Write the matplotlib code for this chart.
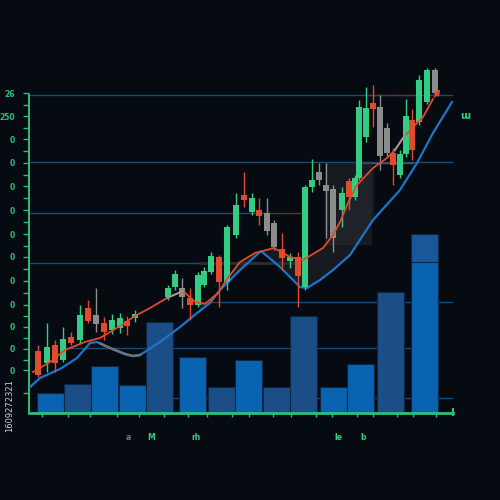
import matplotlib.pyplot as plt
import matplotlib.patches as patches
import numpy as np

# ---- data (x = time position, y = price level) ----
candle_x = [9, 18, 26, 34, 42, 51, 59, 67, 75, 83, 91, 98, 106,
            139, 146, 153, 161, 169, 175, 182, 190, 198, 207, 215, 223,
            230, 238, 245, 253, 261, 269, 276, 283, 290, 297, 304, 313,
            320, 326, 330, 337, 344, 351, 358, 364, 371, 377, 383, 390,
            398, 406]
candle_open = [62, 50, 68, 53, 76, 73, 105, 98, 90, 83, 85, 92, 95,
               116, 126, 125, 115, 108, 128, 141, 156, 131, 178, 218, 201,
               203, 200, 190, 164, 152, 156, 126, 226, 241, 228, 224, 203,
               232, 216, 235, 276, 310, 306, 285, 260, 238, 259, 293, 291,
               311, 343]
candle_close = [38, 66, 50, 74, 70, 98, 92, 89, 81, 93, 95, 87, 99,
                125, 139, 116, 108, 138, 142, 157, 131, 186, 208, 213, 215,
                197, 182, 166, 155, 156, 137, 226, 233, 233, 222, 175, 220,
                216, 235, 306, 305, 304, 257, 260, 248, 259, 297, 263, 333,
                343, 320]
candle_high = [68, 90, 73, 86, 81, 108, 113, 125, 96, 99, 100, 97, 103,
               128, 143, 135, 125, 141, 146, 161, 158, 188, 220, 241, 220,
               215, 215, 193, 180, 160, 161, 228, 254, 250, 250, 228, 226,
               235, 238, 313, 326, 328, 318, 290, 265, 263, 314, 304, 338,
               345, 345]
candle_low = [36, 41, 41, 51, 68, 70, 90, 81, 73, 79, 80, 78, 91,
              113, 123, 105, 93, 106, 126, 139, 106, 123, 175, 206, 198,
              188, 178, 163, 143, 145, 106, 123, 221, 228, 175, 161, 186,
              203, 213, 233, 271, 286, 243, 256, 228, 235, 256, 253, 288,
              309, 318]
neutral_idx = [7, 15, 26, 27, 33, 34, 35, 42, 43, 50]

ma_x = [4, 21, 36, 56, 71, 91, 106, 121, 138, 154, 166, 176, 189, 198,
        211, 226, 245, 261, 274, 294, 304, 311, 319, 328, 344, 358, 366,
        374, 384, 394, 404, 413]
ma_y = [41, 51, 63, 71, 75, 87, 97, 105, 115, 122, 111, 109, 120, 134,
        151, 160, 165, 156, 153, 165, 178, 191, 210, 228, 245, 255, 263,
        275, 286, 296, 314, 326]

trend_x = [1, 11, 31, 48, 61, 68, 81, 96, 104, 111, 131, 151, 168, 181,
           191, 211, 232, 251, 271, 278, 291, 304, 321, 344, 371, 388,
           404, 423]
trend_y = [26, 35, 44, 55, 70, 71, 65, 59, 57, 58, 71, 86, 100, 110,
           123, 143, 162, 146, 126, 125, 133, 143, 158, 193, 223, 250,
           280, 311]

vol_x = [21, 48, 75.5, 103, 130, 163, 192, 219.5, 247, 274, 304, 331.5,
         361, 395.5]
vol_h = [20, 29, 47, 28, 91, 56, 26, 53, 26, 97, 26, 49, 121, 179]
vol_dark = [1, 4, 6, 8, 9, 12]

level_y = [318, 251, 200, 150, 111, 65, 15]
level_x0 = [1, 1, 1, 1, 190, 36, 143]
level_x1 = [424, 424, 238, 171, 424, 381, 424]

y_ticks = [320, 297, 274, 250, 227, 203, 179, 156, 132, 108, 86, 64, 43]
y_labels = ['26', '250', '0', '0', '0', '0', '0', '0', '0', '0', '0', '0', '0']
x_ticks = [13, 39, 61, 88, 110, 135, 159, 178, 203, 220, 244, 262, 287,
           303, 328, 344, 368, 384, 407]

# ---- colours ----
bg = '#060a11'
green = '#33cc85'
red = '#e14a2b'
grey = '#8c8c8c'
axis_green = '#2dbf7c'
blue_line = '#1d74c8'
level_col = '#1b4a78'

fig = plt.figure(figsize=(5, 5), dpi=100)
fig.patch.set_facecolor(bg)
ax = fig.add_axes([29 / 500, 87 / 500, 424 / 500, 350 / 500])
ax.set_facecolor(bg)
ax.set_xlim(0, 424)
ax.set_ylim(0, 350)

# horizontal level lines
for y, a, b in zip(level_y, level_x0, level_x1):
    ax.plot([a, b], [y, y], color=level_col, lw=1, zorder=1)
# coloured level segments
ax.plot([336, 384], [318, 318], color='#6b2a22', lw=1, zorder=1.1)
ax.plot([331, 384], [250, 250], color='#2a6b45', lw=1, zorder=1.1)
ax.plot([238, 274], [200, 200], color='#6b2a22', lw=1, zorder=1.1)
ax.plot([171, 190], [111, 111], color='#6b2a22', lw=1, zorder=1.1)
ax.plot([171, 271], [150, 150], color='#2a2d33', lw=2, zorder=1.1)

# shaded areas between the averages
tx = np.array(trend_x, dtype=float)
mx = np.array(ma_x, dtype=float)
xs = np.linspace(170, 345, 200)
ax.fill_between(xs, np.interp(xs, tx, trend_y), np.interp(xs, mx, ma_y),
                color='#2a2d33', alpha=0.45, lw=0, zorder=1.2)
ax.add_patch(patches.Rectangle((296, 168), 47, 82, color='#2a2d33',
                               alpha=0.45, lw=0, zorder=1.2))

# volume bars
for i, (x, h) in enumerate(zip(vol_x, vol_h)):
    c = '#1b4d86' if i in vol_dark else '#0a63b0'
    ax.bar(x, h, width=27, bottom=0, color=c, edgecolor='#0a2746',
           lw=0.8, zorder=2)
ax.bar(vol_x[-1], 28, width=27, bottom=vol_h[-1] - 28, color='#1a5798',
       edgecolor='#0a2746', lw=0.8, zorder=2.1)

# trend line (blue) and moving average (red)
ax.plot(trend_x, trend_y, color=blue_line, lw=1.6, zorder=3)
gx = np.linspace(71, 111, 30)
ax.plot(gx, np.interp(gx, tx, trend_y), color='#6f7378', lw=1.8, zorder=3.1)

ax.plot(ma_x[:-1], ma_y[:-1], color=red, lw=1.3, zorder=5)
ax.annotate('', xy=(ma_x[-1], ma_y[-1]), xytext=(ma_x[-2], ma_y[-2]),
            arrowprops=dict(arrowstyle='-|>', color=red, lw=1.3,
                            mutation_scale=8), zorder=5)
for a, b in [(138, 154), (366, 376)]:
    gx = np.linspace(a, b, 20)
    ax.plot(gx, np.interp(gx, mx, ma_y), color='#9a9a9a', lw=1.3, zorder=5.1)

# candles
for i in range(len(candle_x)):
    o, c = candle_open[i], candle_close[i]
    if i in neutral_idx:
        col = grey
    elif c >= o:
        col = green
    else:
        col = red
    ax.vlines(candle_x[i], candle_low[i], candle_high[i], color=col,
              lw=1, zorder=4)
    ax.bar(candle_x[i], abs(c - o), width=6, bottom=min(o, c), color=col,
           lw=0, zorder=4)

# axes styling
for s in ['top', 'right']:
    ax.spines[s].set_visible(False)
ax.spines['left'].set_color(axis_green)
ax.spines['left'].set_linewidth(1.4)
ax.spines['left'].set_bounds(0, 318)
ax.spines['bottom'].set_color(axis_green)
ax.spines['bottom'].set_linewidth(2)

ax.set_yticks(y_ticks)
ax.set_yticklabels(y_labels)
ax.set_yticks([(a + b) / 2 for a, b in zip(y_ticks[:-1], y_ticks[1:])] + [20],
              minor=True)
ax.tick_params(axis='y', which='both', colors=axis_green, length=4,
               width=1, pad=6, labelsize=5.5)
for t in ax.get_yticklabels():
    t.set_fontweight('bold')
ax.set_xticks(x_ticks)
ax.tick_params(axis='x', colors=axis_green, length=3, width=1,
               labelbottom=False)
ax.plot([424, 424], [-2, 4], color=axis_green, lw=1.5, clip_on=False)

# small texts
ax.text(436, 297, 'ɯ', color=green, fontsize=7, fontweight='bold',
        ha='center', va='center', clip_on=False)
for x, s, c in [(99, 'a', '#777777'), (122, 'M', green), (167, 'rh', green),
                (309, 'le', green), (334, 'b', green)]:
    ax.text(x, -24, s, color=c, fontsize=5.5, fontweight='bold',
            ha='center', va='center', clip_on=False)
fig.text(10 / 500, 1 - 406 / 500, '1609272321', color='#d0d0d0',
         fontsize=6, rotation=90, ha='center', va='center')

fig.savefig('out.png', dpi=100, facecolor=bg)
